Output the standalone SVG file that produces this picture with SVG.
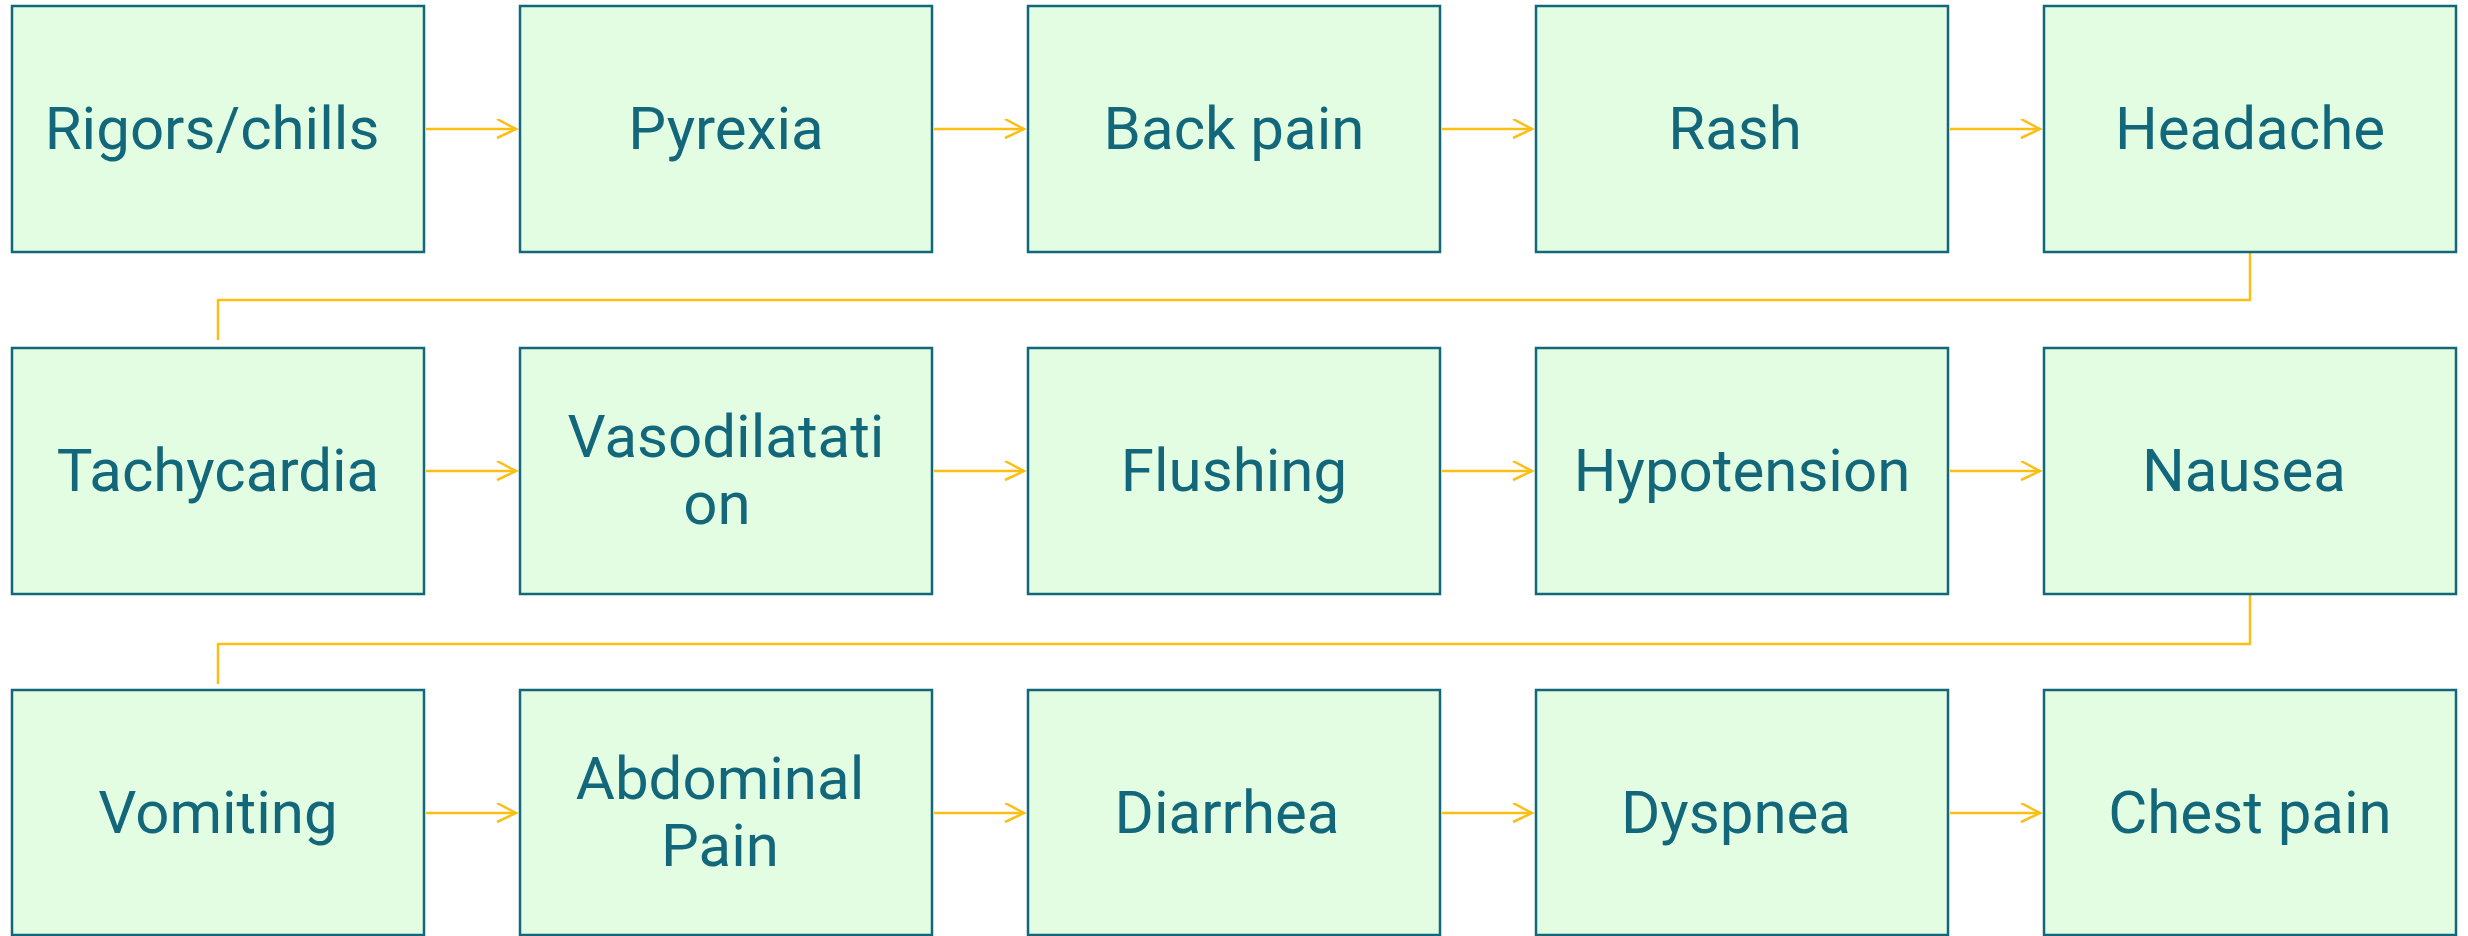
<svg xmlns="http://www.w3.org/2000/svg" width="2468" height="936" viewBox="0 0 2468 936">
<style>
.box{fill:#e3fde3;stroke:#13677a;stroke-width:2.5}
.lbl{font-family:Roboto,"Liberation Sans",sans-serif;font-size:60px;fill:#13677a;text-anchor:middle}
.con{fill:none;stroke:#fbbf14;stroke-width:2.5}
</style>
<defs>
<marker id="ah" markerWidth="24" markerHeight="24" refX="20" refY="10" orient="auto" markerUnits="userSpaceOnUse">
<path d="M1,0 L20,10 L1,19" fill="none" stroke="#fbbf14" stroke-width="2.5"/>
</marker>
</defs>
<rect width="2468" height="936" fill="#ffffff"/>
<g id="connectors">
<line class="con" x1="426" y1="129" x2="516" y2="129" marker-end="url(#ah)"/>
<line class="con" x1="934" y1="129" x2="1024" y2="129" marker-end="url(#ah)"/>
<line class="con" x1="1442" y1="129" x2="1532" y2="129" marker-end="url(#ah)"/>
<line class="con" x1="1950" y1="129" x2="2040" y2="129" marker-end="url(#ah)"/>
<polyline class="con" points="2250,253 2250,300 218,300 218,340"/>
<line class="con" x1="426" y1="471" x2="516" y2="471" marker-end="url(#ah)"/>
<line class="con" x1="934" y1="471" x2="1024" y2="471" marker-end="url(#ah)"/>
<line class="con" x1="1442" y1="471" x2="1532" y2="471" marker-end="url(#ah)"/>
<line class="con" x1="1950" y1="471" x2="2040" y2="471" marker-end="url(#ah)"/>
<polyline class="con" points="2250,595 2250,644 218,644 218,684"/>
<line class="con" x1="426" y1="813" x2="516" y2="813" marker-end="url(#ah)"/>
<line class="con" x1="934" y1="813" x2="1024" y2="813" marker-end="url(#ah)"/>
<line class="con" x1="1442" y1="813" x2="1532" y2="813" marker-end="url(#ah)"/>
<line class="con" x1="1950" y1="813" x2="2040" y2="813" marker-end="url(#ah)"/>
</g>
<g id="n1"><rect class="box" x="12" y="6" width="412" height="246"/><text class="lbl" x="212" y="149">Rigors/chills</text></g>
<g id="n2"><rect class="box" x="520" y="6" width="412" height="246"/><text class="lbl" x="726" y="149">Pyrexia</text></g>
<g id="n3"><rect class="box" x="1028" y="6" width="412" height="246"/><text class="lbl" x="1234" y="149">Back pain</text></g>
<g id="n4"><rect class="box" x="1536" y="6" width="412" height="246"/><text class="lbl" x="1735" y="149">Rash</text></g>
<g id="n5"><rect class="box" x="2044" y="6" width="412" height="246"/><text class="lbl" x="2250" y="149">Headache</text></g>
<g id="n6"><rect class="box" x="12" y="348" width="412" height="246"/><text class="lbl" x="218" y="491">Tachycardia</text></g>
<g id="n7"><rect class="box" x="520" y="348" width="412" height="246"/><text class="lbl" x="726" y="457">Vasodilatati</text><text class="lbl" x="717" y="524">on</text></g>
<g id="n8"><rect class="box" x="1028" y="348" width="412" height="246"/><text class="lbl" x="1234" y="491">Flushing</text></g>
<g id="n9"><rect class="box" x="1536" y="348" width="412" height="246"/><text class="lbl" x="1742" y="491">Hypotension</text></g>
<g id="n10"><rect class="box" x="2044" y="348" width="412" height="246"/><text class="lbl" x="2244" y="491">Nausea</text></g>
<g id="n11"><rect class="box" x="12" y="690" width="412" height="245"/><text class="lbl" x="218" y="833">Vomiting</text></g>
<g id="n12"><rect class="box" x="520" y="690" width="412" height="245"/><text class="lbl" x="720" y="799">Abdominal</text><text class="lbl" x="720" y="866">Pain</text></g>
<g id="n13"><rect class="box" x="1028" y="690" width="412" height="245"/><text class="lbl" x="1227" y="833">Diarrhea</text></g>
<g id="n14"><rect class="box" x="1536" y="690" width="412" height="245"/><text class="lbl" x="1736" y="833">Dyspnea</text></g>
<g id="n15"><rect class="box" x="2044" y="690" width="412" height="245"/><text class="lbl" x="2250" y="833">Chest pain</text></g>
</svg>
